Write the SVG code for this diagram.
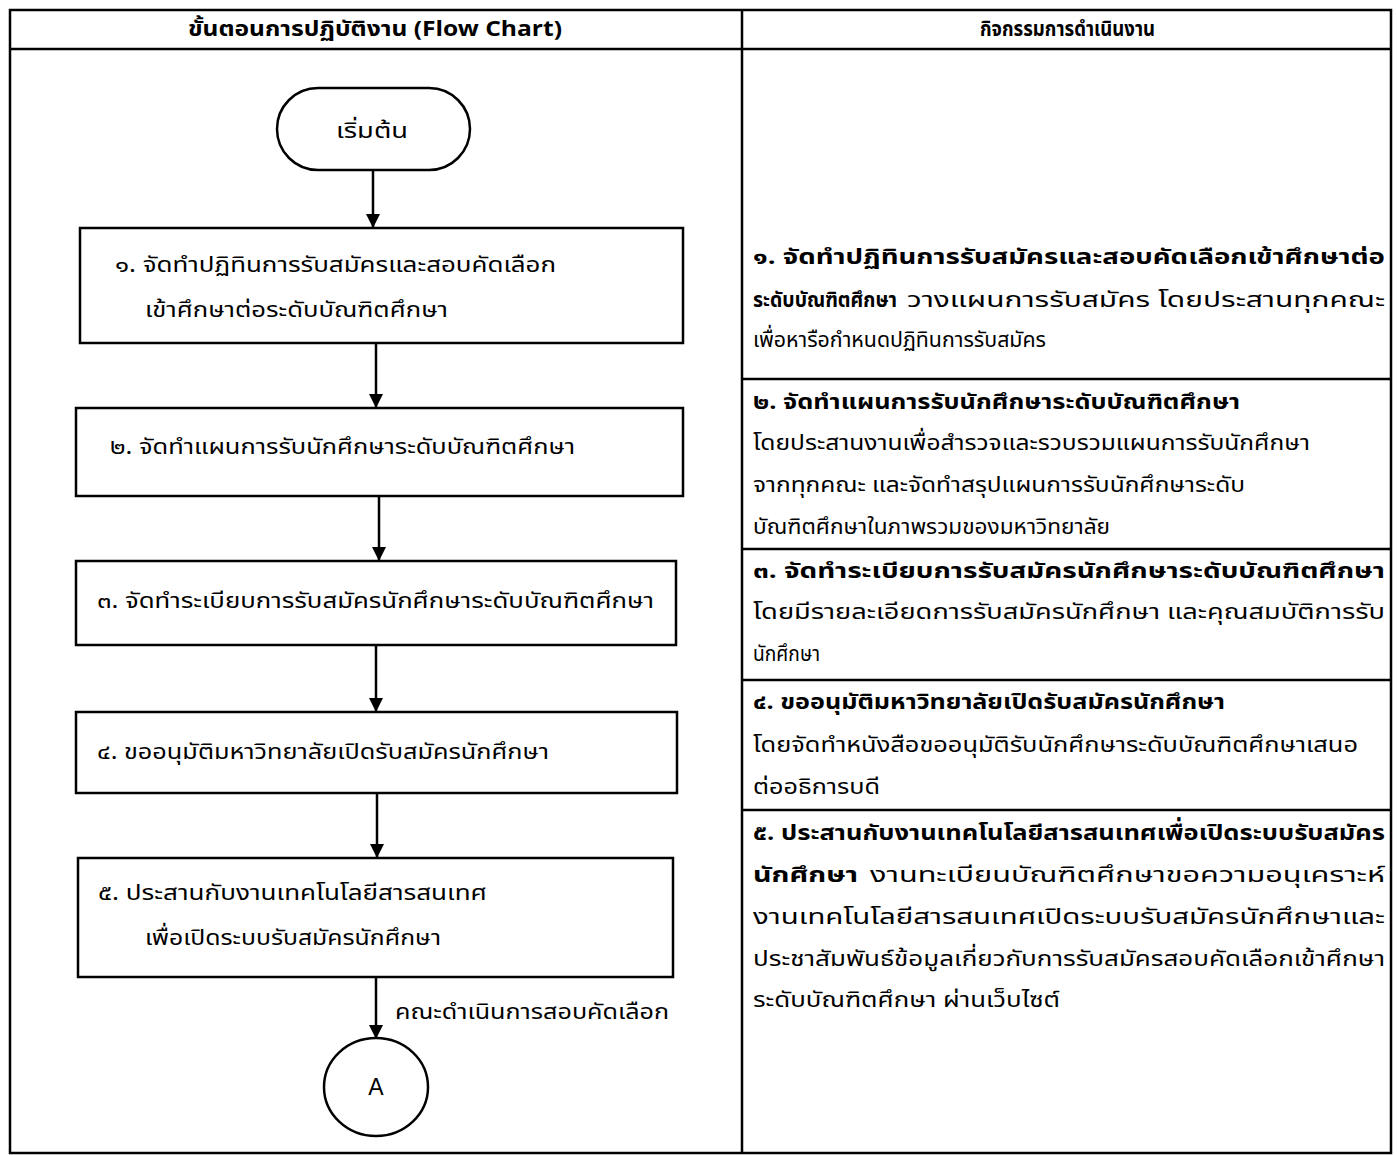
<svg xmlns="http://www.w3.org/2000/svg" width="1397" height="1155" viewBox="0 0 1397 1155">
<defs>
<style>
.t{font-family:"Noto Sans Thai","Noto Sans Thai UI","Loma","Garuda","Noto Sans","DejaVu Sans",sans-serif;font-size:22px;fill:#000}
.b{font-weight:bold}
.h{font-size:21px;font-weight:bold}
.box{fill:#fff;stroke:#000;stroke-width:2.5}
.grid{stroke:#000;stroke-width:2.5;fill:none}
.con{stroke:#000;stroke-width:2.5;fill:none}
</style>
<marker id="arr" markerUnits="userSpaceOnUse" markerWidth="14" markerHeight="16" refX="14" refY="7" orient="auto" viewBox="0 0 14 14">
<path d="M0,0 L14,7 L0,14 Z" fill="#000"/>
</marker>
</defs>
<rect width="1397" height="1155" fill="#fff"/>
<g id="table">
<rect x="10" y="10" width="1381" height="1143" class="grid"/>
<line x1="10" y1="49" x2="1391" y2="49" class="grid" stroke-width="3"/>
<line x1="742" y1="10" x2="742" y2="1153" class="grid"/>
<line x1="742" y1="379" x2="1391" y2="379" class="grid"/>
<line x1="742" y1="549" x2="1391" y2="549" class="grid"/>
<line x1="742" y1="680" x2="1391" y2="680" class="grid"/>
<line x1="742" y1="810" x2="1391" y2="810" class="grid"/>
<text class="t h" x="188" y="36" textLength="374" lengthAdjust="spacingAndGlyphs">ขั้นตอนการปฏิบัติงาน (Flow Chart)</text>
<text class="t h" x="980" y="36" textLength="175" lengthAdjust="spacingAndGlyphs">กิจกรรมการดำเนินงาน</text>
</g>
<g id="connectors">
<line x1="373" y1="170" x2="373" y2="228" class="con" marker-end="url(#arr)"/>
<line x1="376" y1="343" x2="376" y2="408" class="con" marker-end="url(#arr)"/>
<line x1="379" y1="496" x2="379" y2="561" class="con" marker-end="url(#arr)"/>
<line x1="376" y1="645" x2="376" y2="712" class="con" marker-end="url(#arr)"/>
<line x1="377" y1="793" x2="377" y2="858" class="con" marker-end="url(#arr)"/>
<line x1="376" y1="977" x2="376" y2="1039" class="con" marker-end="url(#arr)"/>
<text class="t" x="395" y="1019" textLength="274" lengthAdjust="spacingAndGlyphs">คณะดำเนินการสอบคัดเลือก</text>
</g>
<g id="start">
<rect x="277" y="88" width="193" height="82" rx="41" class="box"/>
<text class="t" x="336" y="138" textLength="72" lengthAdjust="spacingAndGlyphs">เริ่มต้น</text>
</g>
<g id="step1">
<rect x="80" y="228" width="603" height="115" class="box"/>
<text class="t" x="115" y="272" textLength="441" lengthAdjust="spacingAndGlyphs">๑.  จัดทำปฏิทินการรับสมัครและสอบคัดเลือก</text>
<text class="t" x="145" y="317" textLength="303" lengthAdjust="spacingAndGlyphs">เข้าศึกษาต่อระดับบัณฑิตศึกษา</text>
</g>
<g id="step2">
<rect x="76" y="408" width="607" height="88" class="box"/>
<text class="t" x="110" y="454" textLength="465" lengthAdjust="spacingAndGlyphs">๒. จัดทำแผนการรับนักศึกษาระดับบัณฑิตศึกษา</text>
</g>
<g id="step3">
<rect x="76" y="561" width="600" height="84" class="box"/>
<text class="t" x="97" y="608" textLength="557" lengthAdjust="spacingAndGlyphs">๓. จัดทำระเบียบการรับสมัครนักศึกษาระดับบัณฑิตศึกษา</text>
</g>
<g id="step4">
<rect x="76" y="712" width="601" height="81" class="box"/>
<text class="t" x="97" y="759" textLength="452" lengthAdjust="spacingAndGlyphs">๔. ขออนุมัติมหาวิทยาลัยเปิดรับสมัครนักศึกษา</text>
</g>
<g id="step5">
<rect x="78" y="858" width="595" height="119" class="box"/>
<text class="t" x="98" y="900" textLength="389" lengthAdjust="spacingAndGlyphs">๕. ประสานกับงานเทคโนโลยีสารสนเทศ</text>
<text class="t" x="145" y="945" textLength="296" lengthAdjust="spacingAndGlyphs">เพื่อเปิดระบบรับสมัครนักศึกษา</text>
</g>
<g id="connectorA">
<ellipse cx="376" cy="1087" rx="52" ry="49" class="box"/>
<text x="376" y="1095" text-anchor="middle" font-family="Liberation Sans, Arial, sans-serif" font-size="23">A</text>
</g>
<g id="activities">
<text class="t b" x="753" y="264" textLength="632" lengthAdjust="spacingAndGlyphs">๑. จัดทำปฏิทินการรับสมัครและสอบคัดเลือกเข้าศึกษาต่อ</text>
<text class="t" x="753" y="307"><tspan class="b" textLength="144" lengthAdjust="spacingAndGlyphs">ระดับบัณฑิตศึกษา</tspan><tspan x="907" textLength="478" lengthAdjust="spacingAndGlyphs">วางแผนการรับสมัคร โดยประสานทุกคณะ</tspan></text>
<text class="t" x="753" y="347" textLength="293" lengthAdjust="spacingAndGlyphs">เพื่อหารือกำหนดปฏิทินการรับสมัคร</text>
<text class="t b" x="753" y="409" textLength="487" lengthAdjust="spacingAndGlyphs">๒. จัดทำแผนการรับนักศึกษาระดับบัณฑิตศึกษา</text>
<text class="t" x="753" y="450" textLength="557" lengthAdjust="spacingAndGlyphs">โดยประสานงานเพื่อสำรวจและรวบรวมแผนการรับนักศึกษา</text>
<text class="t" x="753" y="492" textLength="492" lengthAdjust="spacingAndGlyphs">จากทุกคณะ และจัดทำสรุปแผนการรับนักศึกษาระดับ</text>
<text class="t" x="753" y="534" textLength="357" lengthAdjust="spacingAndGlyphs">บัณฑิตศึกษาในภาพรวมของมหาวิทยาลัย</text>
<text class="t b" x="753" y="578" textLength="632" lengthAdjust="spacingAndGlyphs">๓. จัดทำระเบียบการรับสมัครนักศึกษาระดับบัณฑิตศึกษา</text>
<text class="t" x="753" y="619" textLength="632" lengthAdjust="spacingAndGlyphs">โดยมีรายละเอียดการรับสมัครนักศึกษา และคุณสมบัติการรับ</text>
<text class="t" x="753" y="661" textLength="67" lengthAdjust="spacingAndGlyphs">นักศึกษา</text>
<text class="t b" x="753" y="709" textLength="472" lengthAdjust="spacingAndGlyphs">๔. ขออนุมัติมหาวิทยาลัยเปิดรับสมัครนักศึกษา</text>
<text class="t" x="753" y="752" textLength="605" lengthAdjust="spacingAndGlyphs">โดยจัดทำหนังสือขออนุมัติรับนักศึกษาระดับบัณฑิตศึกษาเสนอ</text>
<text class="t" x="753" y="794" textLength="127" lengthAdjust="spacingAndGlyphs">ต่ออธิการบดี</text>
<text class="t b" x="753" y="840" textLength="632" lengthAdjust="spacingAndGlyphs">๕. ประสานกับงานเทคโนโลยีสารสนเทศเพื่อเปิดระบบรับสมัคร</text>
<text class="t" x="753" y="882"><tspan class="b" textLength="105" lengthAdjust="spacingAndGlyphs">นักศึกษา</tspan><tspan x="870" textLength="515" lengthAdjust="spacingAndGlyphs">งานทะเบียนบัณฑิตศึกษาขอความอนุเคราะห์</tspan></text>
<text class="t" x="753" y="924" textLength="632" lengthAdjust="spacingAndGlyphs">งานเทคโนโลยีสารสนเทศเปิดระบบรับสมัครนักศึกษาและ</text>
<text class="t" x="753" y="966" textLength="632" lengthAdjust="spacingAndGlyphs">ประชาสัมพันธ์ข้อมูลเกี่ยวกับการรับสมัครสอบคัดเลือกเข้าศึกษา</text>
<text class="t" x="753" y="1007" textLength="307" lengthAdjust="spacingAndGlyphs">ระดับบัณฑิตศึกษา ผ่านเว็บไซต์</text>
</g>
</svg>
